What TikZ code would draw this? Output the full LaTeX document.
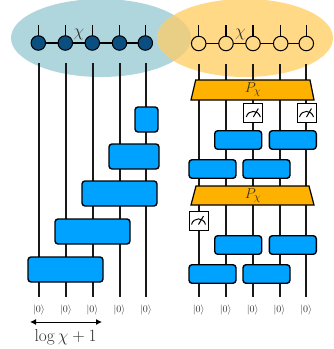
\documentclass[tikz,border=0pt]{standalone}
\usepackage{amsmath}
\usetikzlibrary{shapes.geometric,arrows.meta}
\definecolor{gateblue}{HTML}{00A2FF}
\definecolor{projorange}{HTML}{FFB100}
\definecolor{mpsblue}{HTML}{0B4F80}
\definecolor{lblue}{HTML}{AFD6DC}
\definecolor{lorange}{HTML}{FFD986}
\definecolor{loverlap}{HTML}{E8CF85}
\definecolor{inkgrey}{HTML}{303030}
\tikzset{
  x=1pt,y=-1pt,
  cloud/.style={ellipse,draw=none,inner sep=0pt,minimum height=78pt},
  wire/.style={line width=2pt,black!90},
  stub/.style={line width=1.3pt,black},
  bond/.style={line width=1.3pt,black},
  gate/.style={rectangle,rounded corners=3pt,draw=black,line width=1.4pt,fill=gateblue,inner sep=0pt,minimum height=18.5pt},
  tall/.style={minimum height=25pt},
  site/.style={circle,draw=black,line width=1pt,inner sep=0pt,minimum size=14.5pt},
  filled/.style={fill=mpsblue},
  open/.style={fill=lorange},
  proj/.style={draw=black,line width=1.2pt,fill=projorange},
  projlabel/.style={inner sep=0pt,font=\fontsize{15}{17}\selectfont,text=inkgrey},
  meter/.style={rectangle,draw=black,line width=1pt,fill=white,inner sep=0pt,minimum size=19pt,
    path picture={
      \draw[line width=1pt] ([xshift=-7pt,yshift=-4pt]path picture bounding box.center)
        .. controls ([xshift=-5pt,yshift=3.5pt]path picture bounding box.center) and ([xshift=5pt,yshift=3.5pt]path picture bounding box.center) .. ([xshift=7pt,yshift=-4pt]path picture bounding box.center);
      \draw[line width=1pt] ([yshift=-4pt]path picture bounding box.center) -- ([xshift=5pt,yshift=4.5pt]path picture bounding box.center);
    }},
  ketlabel/.style={inner sep=0pt,font=\fontsize{10}{12}\selectfont,text=inkgrey},
  chilabel/.style={inner sep=0pt,font=\fontsize{16}{18}\selectfont,text=inkgrey},
}
\begin{document}
\begin{tikzpicture}
\useasboundingbox (0,0) rectangle (333,349);
% clouds
\node[cloud,fill=lblue,minimum width=180pt] (cl) at (101,38) {};
\node[cloud,fill=lorange,minimum width=176pt] (cr) at (245,38) {};
\begin{scope}
  \clip (101,38) ellipse [x radius=90,y radius=39];
  \fill[loverlap] (245,38) ellipse [x radius=88,y radius=39];
\end{scope}
% wire ends
\foreach \n/\x in {1/38.5,2/65.5,3/92.5,4/119.5,5/146}{
  \coordinate (lt\n) at (\x,63);
  \coordinate (lb\n) at (\x,297);
  \draw[wire] (lt\n) -- (lb\n);
}
\foreach \n/\x in {1/198.7,2/225.7,3/252.7,4/279.5,5/306.3}{
  \coordinate (rt\n) at (\x,64);
  \coordinate (rb\n) at (\x,297);
  \draw[wire] (rt\n) -- (rb\n);
}
% MPS stubs and bonds
\foreach \n/\x in {1/38.3,2/65.3,3/92.3,4/119.5,5/145.3}{
  \coordinate (ls\n) at (\x,25);
  \coordinate (lc\n) at (\x,43);
  \draw[stub] (ls\n) -- (lc\n);
}
\foreach \n/\x in {1/198.7,2/226,3/253,4/280.7,5/306.3}{
  \coordinate (rs\n) at (\x,25);
  \coordinate (rc\n) at (\x,43.5);
  \draw[stub] (rs\n) -- (rc\n);
}
\draw[bond] (lc1) -- (lc5);
\draw[bond] (rc1) -- (rc5);
\foreach \n in {1,...,5}{
  \node[site,filled] (lm\n) at (lc\n) {};
  \node[site,open] (rm\n) at (rc\n) {};
}
\node[chilabel] (chil) at (79,34) {$\chi$};
\node[chilabel] (chir) at (240.5,34) {$\chi$};
% left staircase
\node[gate,tall,minimum width=23pt] (g1) at (146.5,119.5) {};
\node[gate,tall,minimum width=50pt] (g2) at (134,156.5) {};
\node[gate,tall,minimum width=75pt] (g3) at (119.5,193.5) {};
\node[gate,tall,minimum width=75pt] (g4) at (92.5,231.5) {};
\node[gate,tall,minimum width=75pt] (g5) at (65.5,269.5) {};
% right circuit
\draw[proj] (195.7,80) -- (310,80) -- (314,100) -- (191,100) -- cycle;
\node[projlabel] (p1) at (253,90) {$P_\chi$};
\draw[proj] (196,186) -- (309,186) -- (314,205) -- (191,205) -- cycle;
\node[projlabel] (p2) at (253,195.5) {$P_\chi$};
\node[meter] (m1) at (253.3,113) {};
\node[meter] (m2) at (306.5,113) {};
\node[meter] (m3) at (198.5,220.5) {};
\foreach \n/\x/\y in {a/238.2/140,b/292.8/140,c/212.5/169,d/266.5/169,e/238.2/245,f/292.8/245,g/212.5/274,h/266.5/274}{
  \node[gate,minimum width=47pt] (r\n) at (\x,\y) {};
}
% kets
\foreach \n/\x in {1/39,2/66,3/92.5,4/119.5,5/146,6/198.7,7/225.7,8/252.7,9/279.5,10/306.3}{
  \node[ketlabel] (k\n) at (\x,310) {$|0\rangle$};
}
% width label
\coordinate (al) at (30,322);
\coordinate (ar) at (102,322);
\draw[{Latex[length=6pt,width=6pt]}-{Latex[length=6pt,width=6pt]},line width=1pt] (al) -- (ar);
\node[inner sep=0pt,font=\fontsize{16}{18}\selectfont,text=inkgrey] (lg) at (65.5,337) {$\log\chi+1$};
\end{tikzpicture}
\end{document}
